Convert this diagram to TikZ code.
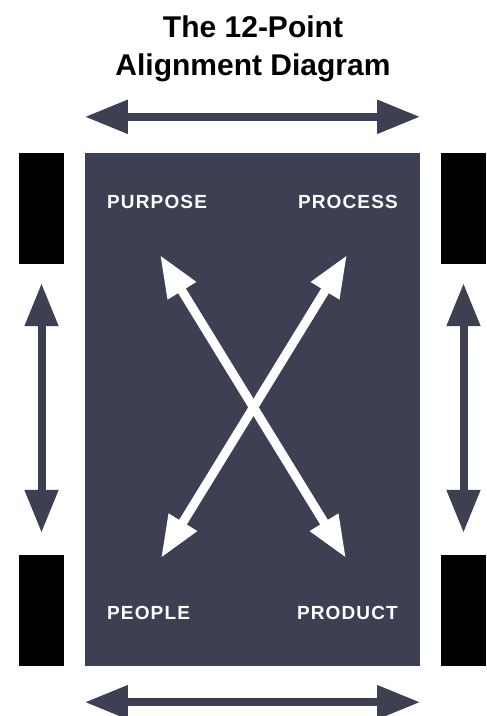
\documentclass[tikz,border=0pt]{standalone}
\usepackage{fontspec}
\setmainfont{Liberation Sans}
\newfontfamily\tagfont[LetterSpace=6]{Liberation Sans}
\usetikzlibrary{arrows.meta}
\definecolor{slate}{RGB}{60,64,82}

\begin{document}
\begin{tikzpicture}[x=1pt,y=-1pt,
	bar/.style={fill=black,minimum width=45pt,minimum height=111pt,inner sep=0},
	tag/.style={text=white,font=\tagfont\bfseries\fontsize{19}{21}\selectfont,inner sep=0},
	darrow/.style={slate,line width=8pt,{Triangle[length=43pt,width=32pt]}-{Triangle[length=43pt,width=32pt]}},
	warrow/.style={white,line width=9pt,{Triangle[length=42pt,width=31pt]}-{Triangle[length=42pt,width=31pt]}}]
	\useasboundingbox[fill=white] (0,0) rectangle (487,716);
	% title
	\node[font=\bfseries\fontsize{30}{36}\selectfont,anchor=base,inner sep=0] (title1) at (253,37) {The 12-Point};
	\node[font=\bfseries\fontsize{30}{36}\selectfont,anchor=base,inner sep=0] (title2) at (253,75) {Alignment Diagram};
	% board
	\node[fill=slate,minimum width=335pt,minimum height=513pt,inner sep=0] (board) at (252.5,409.5) {};
	% side bars
	\foreach \x/\s in {41.5/l,463.5/r} {
		\node[bar] (\s top) at (\x,208.5) {};
		\node[bar] (\s bot) at (\x,610.5) {};
		\draw[darrow] ([yshift=-19pt]\s top.south) -- ([yshift=22pt]\s bot.north);
	}
	% top and bottom arrows
	\draw[darrow] ([yshift=36pt]board.north west) -- ([yshift=36pt]board.north east);
	\draw[darrow] ([yshift=-36pt]board.south west) -- ([yshift=-36pt]board.south east);
	% labels
	\node[tag,anchor=base west] (purpose) at (107,208.5) {PURPOSE};
	\node[tag,anchor=base east] (process) at (398,208.5) {PROCESS};
	\node[tag,anchor=base west] (people) at (107,619.5) {PEOPLE};
	\node[tag,anchor=base east] (product) at (398,619.5) {PRODUCT};
	% cross
	\coordinate (pu) at (160,255);
	\coordinate (pc) at (347,255);
	\coordinate (pe) at (161,558);
	\coordinate (pr) at (346,558);
	\draw[warrow] (pu) -- (pr);
	\draw[warrow] (pc) -- (pe);
\end{tikzpicture}
\end{document}
